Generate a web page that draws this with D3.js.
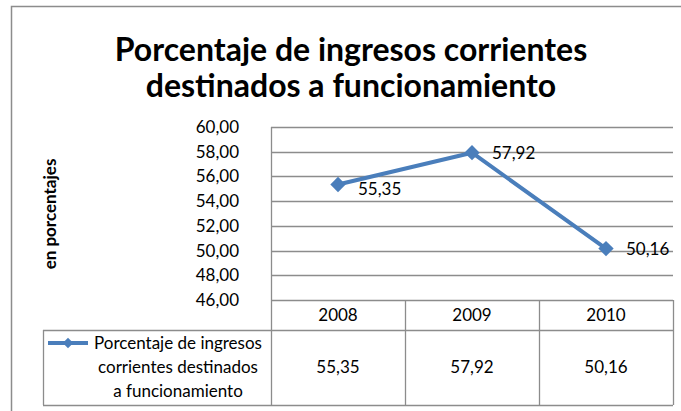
<!DOCTYPE html>
<html>
<head>
<meta charset="utf-8">
<script src="https://cdn.jsdelivr.net/npm/d3@7"></script>
<style>
  body { margin: 0; background: #fff; }
  text { font-family: Lato, "Open Sans", sans-serif; fill: #000; }
</style>
</head>
<body>
<script>
// Data
const years = ["2008", "2009", "2010"];
const values = [55.35, 57.92, 50.16];
const yTicks = [46, 48, 50, 52, 54, 56, 58, 60];
const seriesName = ["Porcentaje de ingresos", "corrientes destinados", "a funcionamiento"];
const titleLines = ["Porcentaje de ingresos corrientes", "destinados a funcionamiento"];

const w = 681, h = 411;
const plot = { left: 271, right: 673, top: 127, bottom: 300 };
const rowH = { head: 30, body: 75 };
const legendLeft = 43;
const blue = "#4a7ebb";
const grey = "#8c8c8c";
const fs = 17;

const fmt = d3.formatLocale({ decimal: ",", thousands: ".", grouping: [3], currency: ["", ""] }).format(".2f");

const svg = d3.select("body").append("svg")
    .attr("width", w)
    .attr("height", h);

// Outer chart frame (goes past the window)
svg.append("rect")
    .attr("x", 11.5).attr("y", 6.5)
    .attr("width", 700).attr("height", 450)
    .attr("fill", "none")
    .attr("stroke", grey)
    .attr("stroke-width", 1.5);

// Title
svg.append("g").selectAll("text")
    .data(titleLines)
    .enter().append("text")
    .attr("x", 351)
    .attr("y", (d, i) => 61 + i * 36)
    .attr("text-anchor", "middle")
    .attr("font-size", 32)
    .attr("font-weight", "bold")
    .text(d => d);

// Scales
const xScale = d3.scaleBand()
    .domain(years)
    .range([plot.left, plot.right]);
const yScale = d3.scaleLinear()
    .domain([46, 60])
    .range([plot.bottom, plot.top]);

// Gridlines
svg.append("g").selectAll("line")
    .data(yTicks)
    .enter().append("line")
    .attr("x1", plot.left).attr("x2", plot.right)
    .attr("y1", d => Math.round(yScale(d)) + 0.5)
    .attr("y2", d => Math.round(yScale(d)) + 0.5)
    .attr("stroke", grey)
    .attr("stroke-width", 1.3);

// Y axis
const yAxis = d3.axisLeft(yScale)
    .tickValues(yTicks)
    .tickFormat(fmt)
    .tickSize(0)
    .tickPadding(32);
const yAxisG = svg.append("g")
    .attr("transform", `translate(${plot.left},0)`)
    .call(yAxis);
yAxisG.select(".domain").remove();
yAxisG.selectAll("text")
    .attr("font-family", "Lato, 'Open Sans', sans-serif")
    .attr("font-size", fs)
    .attr("fill", "#000");

svg.append("line")
    .attr("x1", plot.left + 0.5).attr("x2", plot.left + 0.5)
    .attr("y1", plot.top).attr("y2", plot.bottom + rowH.head + rowH.body)
    .attr("stroke", grey).attr("stroke-width", 1.3);

// Y axis title
svg.append("text")
    .attr("transform", "translate(56,214) rotate(-90)")
    .attr("text-anchor", "middle")
    .attr("font-size", 17)
    .attr("font-weight", "bold")
    .text("en porcentajes");

// Data table
const tableTop = plot.bottom;
const headBottom = tableTop + rowH.head;
const tableBottom = headBottom + rowH.body;
const tbl = svg.append("g")
    .attr("stroke", grey)
    .attr("stroke-width", 1.3);
tbl.append("line")
    .attr("x1", legendLeft).attr("x2", plot.right)
    .attr("y1", headBottom + 0.5).attr("y2", headBottom + 0.5);
tbl.append("line")
    .attr("x1", legendLeft).attr("x2", plot.right)
    .attr("y1", tableBottom + 0.5).attr("y2", tableBottom + 0.5);
tbl.append("line")
    .attr("x1", legendLeft + 0.5).attr("x2", legendLeft + 0.5)
    .attr("y1", headBottom).attr("y2", tableBottom);
tbl.selectAll(".col")
    .data(years)
    .enter().append("line")
    .attr("class", "col")
    .attr("x1", d => Math.round(xScale(d) + xScale.bandwidth()) + 0.5)
    .attr("x2", d => Math.round(xScale(d) + xScale.bandwidth()) + 0.5)
    .attr("y1", tableTop).attr("y2", tableBottom);

// Year labels
svg.append("g").selectAll("text")
    .data(years)
    .enter().append("text")
    .attr("x", d => xScale(d) + xScale.bandwidth() / 2)
    .attr("y", tableTop + 21)
    .attr("text-anchor", "middle")
    .attr("font-size", fs)
    .text(d => d);

// Table values
svg.append("g").selectAll("text")
    .data(values)
    .enter().append("text")
    .attr("x", (d, i) => xScale(years[i]) + xScale.bandwidth() / 2)
    .attr("y", headBottom + 43)
    .attr("text-anchor", "middle")
    .attr("font-size", fs)
    .text(d => fmt(d));

// Legend key
const key = svg.append("g");
key.append("line")
    .attr("x1", 48).attr("x2", 88)
    .attr("y1", headBottom + 13).attr("y2", headBottom + 13)
    .attr("stroke", blue).attr("stroke-width", 4);
key.append("path")
    .attr("d", d3.symbol(d3.symbolDiamond2, 70)())
    .attr("transform", `translate(68,${headBottom + 13})`)
    .attr("fill", blue);
key.selectAll("text")
    .data(seriesName)
    .enter().append("text")
    .attr("x", 178)
    .attr("y", (d, i) => headBottom + 19 + i * 24)
    .attr("text-anchor", "middle")
    .attr("font-size", fs)
    .text(d => d);

// Line series
const line = d3.line()
    .x((d, i) => xScale(years[i]) + xScale.bandwidth() / 2)
    .y(d => yScale(d));
svg.append("path")
    .datum(values)
    .attr("d", line)
    .attr("fill", "none")
    .attr("stroke", blue)
    .attr("stroke-width", 4)
    .attr("stroke-linejoin", "round");

svg.append("g").selectAll("path")
    .data(values)
    .enter().append("path")
    .attr("d", d3.symbol(d3.symbolDiamond2, 150)())
    .attr("transform", (d, i) => `translate(${xScale(years[i]) + xScale.bandwidth() / 2},${yScale(d)})`)
    .attr("fill", blue);

// Data labels
svg.append("g").selectAll("text")
    .data(values)
    .enter().append("text")
    .attr("x", (d, i) => xScale(years[i]) + xScale.bandwidth() / 2 + 20)
    .attr("y", (d, i) => yScale(d) + (i === 0 ? 11 : 6))
    .attr("font-size", fs)
    .text(d => fmt(d));
</script>
</body>
</html>
